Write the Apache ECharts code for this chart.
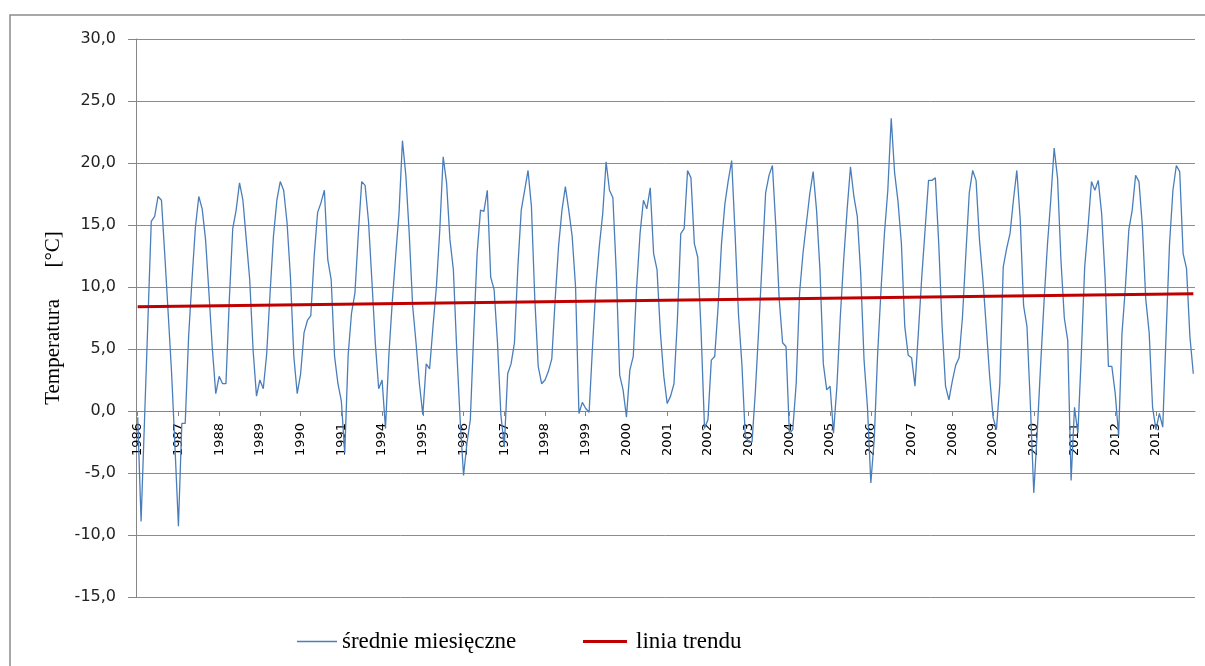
<!DOCTYPE html>
<html>
<head>
<meta charset="utf-8">
<script src="https://cdn.jsdelivr.net/npm/echarts@6/dist/echarts.min.js"></script>
<style>
html,body{margin:0;padding:0;background:#fff;}
#chart{width:1205px;height:666px;}
</style>
</head>
<body>
<div id="chart"></div>
<script>
// Year labels (1992 and 1993 are absent in the source)
const years = ['1986','1987','1988','1989','1990','1991','1994','1995','1996','1997','1998','1999','2000',
  '2001','2002','2003','2004','2005','2006','2007','2008','2009','2010','2011','2012','2013'];

// Monthly mean temperatures [°C], one row per year (Jan..Dec)
const t1986 = [-0.5, -8.9, -0.8, 7.2, 15.3, 15.7, 17.3, 17.0, 12.5, 7.8, 3.0, -3.0];
const t1987 = [-9.3, -1.0, -1.0, 6.0, 10.6, 14.8, 17.3, 16.3, 13.8, 9.5, 5.0, 1.4];
const t1988 = [2.8, 2.2, 2.2, 9.0, 14.7, 16.2, 18.4, 17.0, 13.8, 10.6, 4.9, 1.2];
const t1989 = [2.5, 1.8, 4.6, 9.5, 14.1, 17.0, 18.5, 17.8, 15.2, 10.8, 4.4, 1.4];
const t1990 = [3.0, 6.3, 7.3, 7.7, 12.5, 16.0, 16.8, 17.8, 12.2, 10.6, 4.4, 2.2];
const t1991 = [0.8, -3.4, 4.5, 7.9, 9.5, 14.3, 18.5, 18.2, 15.3, 10.5, 5.5, 1.8];
const t1994 = [2.5, -1.4, 4.5, 8.8, 12.5, 16.0, 21.8, 19.0, 14.3, 8.5, 5.5, 2.2];
const t1995 = [-0.3, 3.8, 3.4, 6.8, 10.0, 14.6, 20.5, 18.4, 13.8, 11.4, 4.9, -0.7];
const t1996 = [-5.2, -2.6, -0.7, 6.3, 12.7, 16.2, 16.1, 17.8, 10.8, 9.8, 5.5, -0.3];
const t1997 = [-2.9, 3.0, 3.8, 5.5, 11.6, 16.2, 17.8, 19.4, 16.5, 9.0, 3.6, 2.2];
const t1998 = [2.5, 3.2, 4.2, 9.0, 13.3, 16.2, 18.1, 16.2, 14.1, 10.0, -0.2, 0.7];
const t1999 = [0.2, -0.1, 5.2, 10.0, 13.3, 15.9, 20.1, 17.8, 17.2, 11.2, 2.9, 1.7];
const t2000 = [-0.5, 3.3, 4.4, 10.0, 14.3, 17.0, 16.3, 18.0, 12.7, 11.4, 6.3, 2.8];
const t2001 = [0.6, 1.2, 2.2, 7.3, 14.3, 14.7, 19.4, 18.8, 13.5, 12.4, 6.3, -1.4];
const t2002 = [-0.7, 4.1, 4.4, 8.4, 13.5, 16.7, 18.6, 20.2, 14.3, 7.8, 3.8, -2.0];
const t2003 = [-2.5, -2.5, 1.7, 6.8, 12.2, 17.6, 19.0, 19.8, 14.9, 9.0, 5.5, 5.2];
const t2004 = [-1.8, -1.5, 2.2, 9.5, 12.7, 15.1, 17.5, 19.3, 16.2, 11.4, 3.8, 1.7];
const t2005 = [2.0, -1.8, 2.0, 7.6, 12.2, 16.2, 19.7, 17.3, 15.7, 11.1, 4.1, 0.3];
const t2006 = [-5.8, -2.3, 4.6, 9.8, 14.3, 17.8, 23.6, 19.2, 16.9, 13.5, 6.8, 4.5];
const t2007 = [4.3, 2.0, 6.3, 10.8, 14.7, 18.6, 18.6, 18.8, 13.5, 6.8, 2.0, 0.9];
const t2008 = [2.4, 3.7, 4.3, 7.6, 12.7, 17.6, 19.4, 18.6, 13.8, 10.6, 6.8, 2.8];
const t2009 = [-0.5, -1.5, 2.2, 11.6, 13.1, 14.3, 17.0, 19.4, 15.5, 8.5, 6.8, 0.5];
const t2010 = [-6.6, -1.8, 3.6, 8.7, 13.3, 17.0, 21.2, 18.8, 12.2, 7.5, 5.7, -5.6];
const t2011 = [0.3, -1.8, 4.5, 11.6, 14.9, 18.5, 17.8, 18.6, 15.9, 10.8, 3.6, 3.6];
const t2012 = [1.4, -2.0, 6.3, 10.0, 14.6, 16.2, 19.0, 18.5, 14.9, 9.0, 6.3, 0.3];
const t2013 = [-1.5, -0.2, -1.3, 6.3, 13.5, 17.8, 19.8, 19.3, 12.7, 11.5, 6.0, 3.0];

const yearRows = [t1986,t1987,t1988,t1989,t1990,t1991,t1994,t1995,t1996,t1997,t1998,t1999,t2000,
  t2001,t2002,t2003,t2004,t2005,t2006,t2007,t2008,t2009,t2010,t2011,t2012,t2013];

// Trend line end values
const trendStart = 8.4;
const trendEnd = 9.45;

// Y axis ticks
const yMin = -15, yMax = 30, yStep = 5;

// Build category axis & series
const categories = [];
const monthly = [];
years.forEach((y, i) => {
  yearRows[i].forEach((v, m) => {
    categories.push(y + '-' + (m + 1));
    monthly.push(v);
  });
});
const trend = monthly.map(() => null);
trend[0] = trendStart;
trend[trend.length - 1] = trendEnd;

// layout
const gridTop = 39, gridBottom = 69, chartH = 666;
const gridH = chartH - gridTop - gridBottom;
const zeroOffset = -gridH * (0 - yMin) / (yMax - yMin); // move category axis up to value 0

const legendText = { fontFamily: 'Liberation Serif', fontSize: 23, color: '#000' };

const chart = echarts.init(document.getElementById('chart'));
chart.setOption({
  animation: false,
  backgroundColor: '#fff',
  graphic: [{
    type: 'rect',
    shape: { x: 10, y: 15, width: 1220, height: 700 },
    style: { fill: 'none', stroke: '#8c8c8c', lineWidth: 1.5 },
    silent: true
  }],
  grid: { left: 136, right: 10, top: gridTop, bottom: gridBottom, containLabel: false },
  legend: [
    {
      data: [{ name: 'średnie miesięczne', icon: 'path://M0,0H40V1.3H0Z' }],
      left: 292, top: 625,
      itemWidth: 40, itemHeight: 14,
      textStyle: legendText
    },
    {
      data: [{ name: 'linia trendu', icon: 'path://M0,0H44V3H0Z' }],
      left: 578, top: 625,
      itemWidth: 44, itemHeight: 14,
      itemGap: 10,
      textStyle: Object.assign({}, legendText, { padding: [0, 0, 0, 4] })
    }
  ],
  xAxis: {
    type: 'category',
    data: categories,
    boundaryGap: true,
    offset: zeroOffset,
    axisLine: { onZero: false, lineStyle: { color: '#868686', width: 1 } },
    axisTick: { show: true, interval: (i) => i % 12 === 0, alignWithLabel: true, length: 5, lineStyle: { color: '#868686' } },
    axisLabel: {
      interval: (i) => i % 12 === 0,
      formatter: (v) => v.slice(0, 4),
      rotate: 90,
      margin: 12,
      fontFamily: 'DejaVu Sans', fontSize: 13, color: '#000'
    },
    splitLine: { show: false }
  },
  yAxis: {
    type: 'value',
    min: yMin, max: yMax, interval: yStep,
    name: 'Temperatura      [°C]',
    nameLocation: 'middle',
    nameGap: 72,
    nameTextStyle: { fontFamily: 'Liberation Serif', fontSize: 21, color: '#000' },
    axisLine: { show: true, lineStyle: { color: '#868686', width: 1 } },
    axisTick: { show: true, length: 8, lineStyle: { color: '#868686' } },
    axisLabel: {
      margin: 20,
      formatter: (v) => v.toFixed(1).replace('.', ','),
      fontFamily: 'DejaVu Sans', fontSize: 16, color: '#222'
    },
    splitLine: { show: true, lineStyle: { color: '#8c8c8c', width: 1 } }
  },
  series: [
    {
      name: 'średnie miesięczne',
      type: 'line',
      data: monthly,
      symbol: 'none',
      lineStyle: { color: '#4a7ebb', width: 1.3 },
      itemStyle: { color: '#4a7ebb' },
      z: 2
    },
    {
      name: 'linia trendu',
      type: 'line',
      data: trend,
      connectNulls: true,
      symbol: 'none',
      lineStyle: { color: '#c00000', width: 3 },
      itemStyle: { color: '#c00000' },
      z: 3
    }
  ]
});
</script>
</body>
</html>
